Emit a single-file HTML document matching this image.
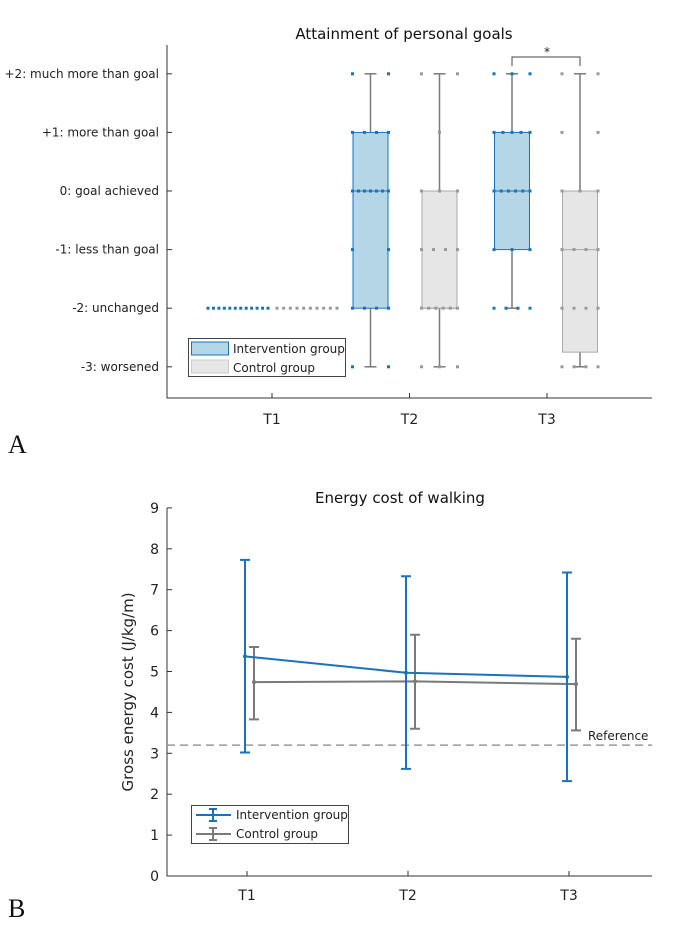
<!DOCTYPE html>
<html><head><meta charset="utf-8"><style>
body{margin:0;background:#fff}
svg{display:block}
text{font-family:"DejaVu Sans","Liberation Sans",sans-serif}
</style></head><body>
<svg id="s" width="677" height="930" viewBox="0 0 677 930"></svg>
<script>
// ---- Chart A data ----
const levelLabels=["-3: worsened","-2: unchanged","-1: less than goal","0: goal achieved","+1: more than goal","+2: much more than goal"];
const levelValues=[-3,-2,-1,0,1,2];
const timeLabels=["T1","T2","T3"];
const intBoxes=[null,{lo:-3,q1:-2,med:0,q3:1,hi:2},{lo:-2,q1:-1,med:0,q3:1,hi:2}];
const ctlBoxes=[null,{lo:-3,q1:-2,med:-2,q3:0,hi:2},{lo:-3,q1:-2.75,med:-1,q3:0,hi:2}];
const intPts=[[-2,-2,-2,-2,-2,-2,-2,-2,-2,-2,-2,-2],[2,2,1,1,1,1,0,0,0,0,0,0,0,-1,-1,-2,-2,-2,-2,-3,-3],[2,2,2,1,1,1,1,1,0,0,0,0,0,0,-1,-1,-1,-2,-2,-2,-2]];
const ctlPts=[[-2,-2,-2,-2,-2,-2,-2,-2,-2,-2],[2,2,1,0,0,0,-1,-1,-1,-1,-2,-2,-2,-2,-2,-2,-3,-3,-3],[2,2,1,1,0,0,0,-1,-1,-1,-1,-2,-2,-2,-2,-3,-3,-3,-3]];
// ---- Chart B data ----
const intMean=[5.37,4.97,4.87], intHi=[7.73,7.33,7.42], intLo=[3.02,2.62,2.32];
const ctlMean=[4.74,4.76,4.69], ctlHi=[5.6,5.9,5.8], ctlLo=[3.83,3.6,3.56];
const refValue=3.2;
const yTicksB=[0,1,2,3,4,5,6,7,8,9];

const s=document.getElementById('s');
const NS='http://www.w3.org/2000/svg';
function mk(tag,at,parent,txt){const e=document.createElementNS(NS,tag);for(const k in at)e.setAttribute(k,at[k]);if(txt!==undefined)e.textContent=txt;(parent||s).appendChild(e);return e;}
const BLUE='#1a72bb', GREY='#7a7a7a';

// ===== Chart A =====
const gA=mk('g',{});


const yA=v=>191-v*58.6;
const xA=i=>272+137.5*i;
let t=mk('text',{x:404,y:39,'font-size':15,'text-anchor':'middle',fill:'#111'},gA,'Attainment of personal goals');

let ax=mk('path',{d:'M167,45V398H652',stroke:'#333',fill:'none','stroke-width':1},gA);

levelValues.forEach((v,i)=>{
 mk('line',{x1:167,x2:172,y1:yA(v),y2:yA(v),stroke:'#333'},gA);
 const l=mk('text',{x:159,y:yA(v)+4,'font-size':12,'text-anchor':'end',fill:'#222'},gA,levelLabels[i]);
 
});
timeLabels.forEach((lab,i)=>{
 mk('line',{x1:xA(i),x2:xA(i),y1:398,y2:393,stroke:'#333'},gA);
 const l=mk('text',{x:xA(i),y:424,'font-size':14,'text-anchor':'middle',fill:'#222'},gA,lab);
 
});
function box(b,cx,fill,stroke,name){
 if(!b)return;
 const g=mk('g',{},gA);
 
 mk('line',{x1:cx,x2:cx,y1:yA(b.hi),y2:yA(b.lo),stroke:GREY,'stroke-width':1.5},g);
 mk('line',{x1:cx-6,x2:cx+6,y1:yA(b.hi),y2:yA(b.hi),stroke:GREY,'stroke-width':1.5},g);
 mk('line',{x1:cx-6,x2:cx+6,y1:yA(b.lo),y2:yA(b.lo),stroke:GREY,'stroke-width':1.5},g);
 mk('rect',{x:cx-17.5,y:yA(b.q3),width:35,height:yA(b.q1)-yA(b.q3),fill:fill,stroke:stroke,'stroke-width':1},g);
 mk('line',{x1:cx-17.5,x2:cx+17.5,y1:yA(b.med),y2:yA(b.med),stroke:stroke,'stroke-width':1},g);
}
function dots(pts,cx,col,spread){
 const cnt={};
 pts.forEach(v=>{cnt[v]=(cnt[v]||0)+1;});
 const idx={};
 pts.forEach(v=>{const n=cnt[v];idx[v]=(idx[v]||0);const k=idx[v]++;
  const off=n>1?(-spread+2*spread*k/(n-1)):0;
  const d=mk('rect',{x:cx+off-1.5,y:yA(v)-1.5,width:3,height:3,fill:col},gA);
  });
}
dots(intPts[0],xA(0)-34,BLUE,30);
dots(ctlPts[0],xA(0)+35,'#999',30);
for(let i=1;i<3;i++){
 const ci=xA(i)-(i==1?39:35), cc=xA(i)+(i==1?30:33);
 box(intBoxes[i],ci,'#b5d6e6',BLUE,'intervention-box-'+timeLabels[i]);
 box(ctlBoxes[i],cc,'#e6e6e6','#aaa','control-box-'+timeLabels[i]);
 dots(intPts[i],ci,BLUE,18);
 dots(ctlPts[i],cc,'#999',18);
}
let br=mk('path',{d:`M${xA(2)-35},66V57H${xA(2)+33}V66`,stroke:'#444',fill:'none'},gA);

mk('text',{x:xA(2),y:56,'font-size':12,'text-anchor':'middle',fill:'#222'},gA,'*');
const lgA=mk('g',{},gA);

mk('rect',{x:188.5,y:338.5,width:157,height:38,fill:'#fff',stroke:'#444'},lgA);
mk('rect',{x:191.5,y:342,width:37,height:13,fill:'#b5d6e6',stroke:BLUE},lgA);
mk('rect',{x:191.5,y:360,width:37,height:13,fill:'#e6e6e6',stroke:'#ccc'},lgA);
mk('text',{x:233,y:353,'font-size':12,fill:'#222'},lgA,'Intervention group');
mk('text',{x:233,y:372,'font-size':12,fill:'#222'},lgA,'Control group');
t=mk('text',{x:8,y:453,'font-size':26,fill:'#111',style:'font-family:"Liberation Serif",serif'},gA,'A');


// ===== Chart B =====
const gB=mk('g',{});


const yB=v=>876-v*40.9;
const xB=i=>247+161*i;
t=mk('text',{x:400,y:503,'font-size':15,'text-anchor':'middle',fill:'#111'},gB,'Energy cost of walking');

ax=mk('path',{d:'M167,508V876H652',stroke:'#333',fill:'none'},gB);

yTicksB.forEach(v=>{
 mk('line',{x1:167,x2:172,y1:yB(v),y2:yB(v),stroke:'#333'},gB);
 const l=mk('text',{x:159,y:yB(v)+5,'font-size':14,'text-anchor':'end',fill:'#222'},gB,String(v));
 
});
timeLabels.forEach((lab,i)=>{
 mk('line',{x1:xB(i),x2:xB(i),y1:876,y2:871,stroke:'#333'},gB);
 const l=mk('text',{x:xB(i),y:900,'font-size':14,'text-anchor':'middle',fill:'#222'},gB,lab);
 
});
t=mk('text',{x:0,y:0,'font-size':15,'text-anchor':'middle',fill:'#222',transform:`translate(133,${yB(4.5)}) rotate(-90)`},gB,'Gross energy cost (J/kg/m)');

let rl=mk('line',{x1:167,x2:652,y1:yB(refValue),y2:yB(refValue),stroke:'#999','stroke-width':1.5,'stroke-dasharray':'8,5'},gB);

mk('text',{x:588,y:yB(refValue)-5,'font-size':12,fill:'#222'},gB,'Reference');
function series(mean,hi,lo,off,col,name){
 const g=mk('g',{},gB);
 
 mk('polyline',{points:mean.map((m,i)=>`${xB(i)+off},${yB(m)}`).join(' '),fill:'none',stroke:col,'stroke-width':2},g);
 mean.forEach((m,i)=>{
  const x=xB(i)+off;
  mk('path',{d:`M${x},${yB(hi[i])}V${yB(lo[i])}M${x-5},${yB(hi[i])}H${x+5}M${x-5},${yB(lo[i])}H${x+5}`,stroke:col,'stroke-width':2,fill:'none'},g);
  mk('circle',{cx:x,cy:yB(m),r:2,fill:col},g);
 });
}
series(ctlMean,ctlHi,ctlLo,7,GREY,'control-series');
series(intMean,intHi,intLo,-2,BLUE,'intervention-series');
const lgB=mk('g',{},gB);

mk('rect',{x:191.5,y:805.5,width:157,height:38,fill:'#fff',stroke:'#444'},lgB);
mk('path',{d:'M196,815H231M213,809V821M209,809H217M209,821H217',stroke:BLUE,'stroke-width':2,fill:'none'},lgB);
mk('path',{d:'M196,834H231M213,828V840M209,828H217M209,840H217',stroke:GREY,'stroke-width':2,fill:'none'},lgB);
mk('text',{x:236,y:819,'font-size':12,fill:'#222'},lgB,'Intervention group');
mk('text',{x:236,y:838,'font-size':12,fill:'#222'},lgB,'Control group');
t=mk('text',{x:8,y:917,'font-size':26,fill:'#111',style:'font-family:"Liberation Serif",serif'},gB,'B');

</script>
</body></html>
